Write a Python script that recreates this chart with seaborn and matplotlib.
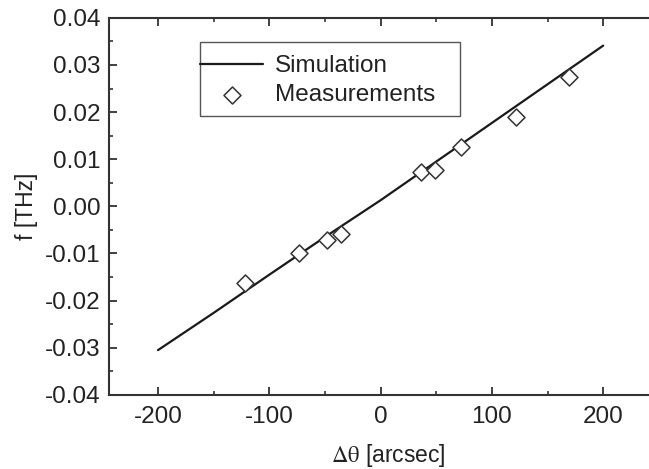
import matplotlib
matplotlib.use("Agg")
import matplotlib.pyplot as plt
import seaborn as sns
import pandas as pd
from matplotlib.ticker import MultipleLocator, FormatStrFormatter
from matplotlib.patches import Rectangle

sns.set_style("ticks")
plt.rcParams['font.family'] = ['Liberation Sans', 'DejaVu Sans']
plt.rcParams['axes.unicode_minus'] = False
plt.rcParams['mathtext.fontset'] = 'stix'

# Simulation curve
sim_x = [-200, -150, -100, -50, 0, 50, 100, 150, 200]
sim_y = [-0.0305, -0.0226, -0.0145, -0.0065, 0.0013, 0.0095, 0.0177, 0.0259, 0.0341]

# Measurements
meas_x = [-122, -73, -48, -36, 36, 49, 72, 122, 169]
meas_y = [-0.0162, -0.0099, -0.0071, -0.0058, 0.0073, 0.0077, 0.0126, 0.0190, 0.0275]

sim = pd.DataFrame({"x": sim_x, "y": sim_y})
meas = pd.DataFrame({"x": meas_x, "y": meas_y})

fig = plt.figure(figsize=(6.49, 4.69), dpi=100)
ax = fig.add_axes([0.168, 0.158, 0.86, 0.804])

sns.lineplot(data=sim, x="x", y="y", ax=ax, color="#1a1a1a", linewidth=1.6,
             label="Simulation")
sns.scatterplot(data=meas, x="x", y="y", ax=ax, marker="D", s=75,
                facecolor="white", edgecolor="#333333", linewidth=1.1,
                label="Measurements", zorder=3)

ax.set_xlim(-244, 257.5)
ax.set_ylim(-0.04, 0.04)
ax.xaxis.set_major_locator(MultipleLocator(100))
ax.xaxis.set_minor_locator(MultipleLocator(50))
ax.yaxis.set_major_locator(MultipleLocator(0.01))
ax.yaxis.set_minor_locator(MultipleLocator(0.005))
ax.yaxis.set_major_formatter(FormatStrFormatter("%.2f"))
ax.tick_params(which="both", direction="in", top=True, right=True,
               colors="#333333", labelcolor="#222222")
ax.tick_params(which="major", length=6, width=1.3, labelsize=17.5)
ax.tick_params(axis="y", which="major", pad=6)
ax.tick_params(axis="x", which="major", pad=8)
ax.tick_params(which="minor", length=3, width=1.2)
for s in ax.spines.values():
    s.set_color("#333333")
    s.set_linewidth(1.5)

ax.set_xlabel(r"$\mathrm{\Delta\theta}$ [arcsec]", fontsize=16.5, color="#222222",
              labelpad=10)
ax.set_ylabel("f [THz]", fontsize=16.5, color="#222222", labelpad=5)

# Legend box frame
ax.add_patch(Rectangle((0.163, 0.740), 0.466, 0.196, transform=ax.transAxes,
                       facecolor="white", edgecolor="#555555", linewidth=1.0,
                       zorder=4))
leg = ax.legend(loc="upper left", bbox_to_anchor=(0.163, 0.901), borderaxespad=0,
                fontsize=17.5, frameon=False,
                handlelength=2.6, handletextpad=0.5, labelspacing=0.3,
                borderpad=0.0)
leg.set_zorder(5)
for t in leg.get_texts():
    t.set_color("#222222")

fig.savefig("out.png", dpi=100)
